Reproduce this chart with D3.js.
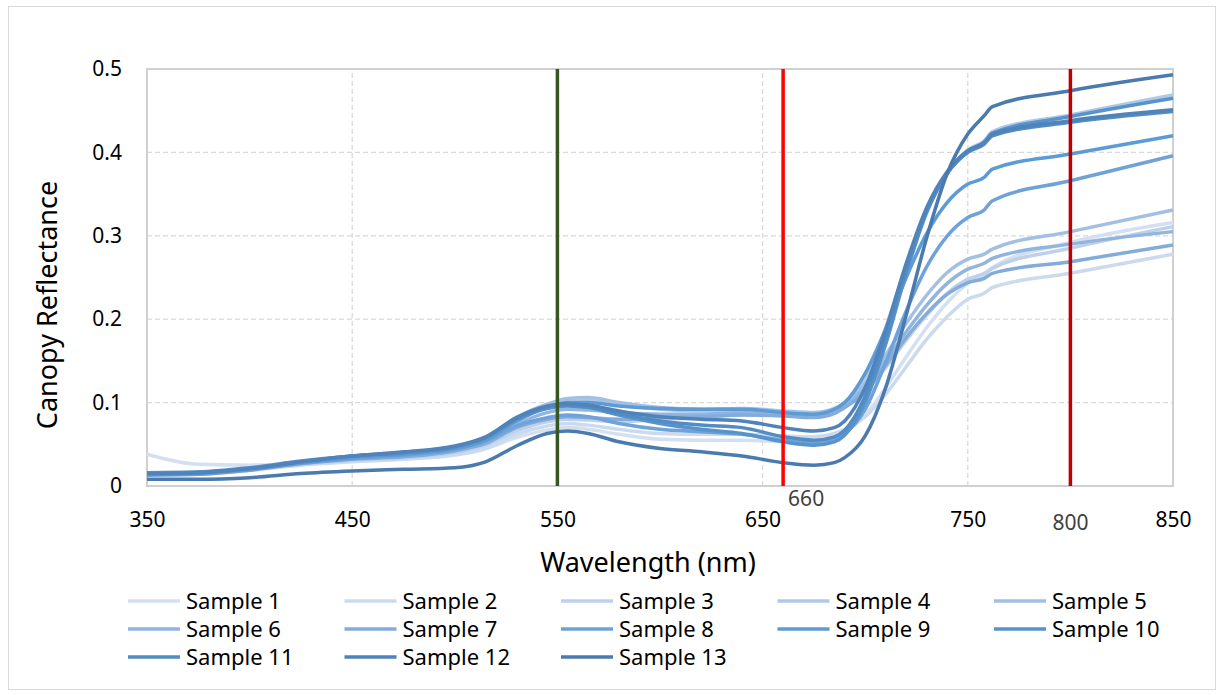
<!DOCTYPE html>
<html>
<head>
<meta charset="utf-8">
<script src="https://cdn.jsdelivr.net/npm/d3@7"></script>
<style>
  body { margin: 0; background: #fff; }
  text { font-family: "Noto Sans", "Open Sans", sans-serif; }
</style>
</head>
<body>
<div id="chart"></div>
<script>
var wavelengths = [350, 375, 400, 425, 450, 475, 500, 515, 530, 545, 555, 565, 580, 600, 620, 640, 660, 675, 685, 690, 700, 710, 720, 730, 740, 750, 758, 762, 800, 850];

var sample1  = [0.038,0.026,0.025,0.027,0.030,0.033,0.038,0.045,0.058,0.067,0.070,0.068,0.062,0.056,0.055,0.055,0.053,0.052,0.057,0.064,0.085,0.118,0.155,0.190,0.220,0.243,0.253,0.262,0.292,0.316];
var sample2  = [0.015,0.016,0.019,0.025,0.029,0.032,0.037,0.045,0.062,0.072,0.075,0.073,0.068,0.063,0.062,0.062,0.060,0.059,0.063,0.068,0.083,0.110,0.143,0.176,0.203,0.224,0.231,0.238,0.255,0.278];
var sample3  = [0.014,0.015,0.019,0.026,0.031,0.034,0.040,0.049,0.066,0.077,0.080,0.079,0.077,0.080,0.082,0.085,0.085,0.083,0.088,0.095,0.113,0.142,0.175,0.205,0.231,0.248,0.255,0.261,0.285,0.311];
var sample4  = [0.015,0.016,0.021,0.029,0.035,0.039,0.046,0.056,0.078,0.095,0.102,0.103,0.098,0.092,0.090,0.091,0.089,0.086,0.092,0.100,0.130,0.190,0.265,0.330,0.375,0.403,0.414,0.425,0.445,0.469];
var sample5  = [0.015,0.016,0.021,0.029,0.035,0.040,0.047,0.058,0.082,0.098,0.105,0.106,0.100,0.094,0.092,0.093,0.090,0.088,0.093,0.100,0.123,0.157,0.195,0.229,0.256,0.272,0.278,0.284,0.305,0.331];
var sample6  = [0.014,0.015,0.020,0.028,0.033,0.037,0.044,0.054,0.074,0.088,0.092,0.091,0.088,0.086,0.086,0.088,0.087,0.085,0.090,0.097,0.118,0.150,0.185,0.217,0.243,0.260,0.267,0.273,0.290,0.305];
var sample7  = [0.014,0.015,0.020,0.027,0.032,0.035,0.042,0.051,0.070,0.080,0.083,0.082,0.080,0.082,0.083,0.085,0.084,0.082,0.087,0.094,0.113,0.145,0.178,0.207,0.230,0.244,0.249,0.255,0.269,0.289];
var sample8  = [0.013,0.014,0.019,0.027,0.033,0.037,0.044,0.054,0.072,0.082,0.085,0.083,0.075,0.068,0.065,0.062,0.055,0.052,0.056,0.063,0.092,0.148,0.210,0.263,0.300,0.322,0.331,0.342,0.366,0.396];
var sample9  = [0.014,0.015,0.020,0.028,0.034,0.038,0.045,0.055,0.078,0.094,0.100,0.100,0.096,0.093,0.092,0.092,0.088,0.086,0.092,0.100,0.135,0.188,0.250,0.303,0.340,0.362,0.370,0.380,0.398,0.420];
var sample10 = [0.016,0.017,0.022,0.030,0.036,0.040,0.047,0.058,0.080,0.093,0.096,0.094,0.085,0.075,0.068,0.063,0.053,0.049,0.053,0.061,0.100,0.170,0.255,0.328,0.375,0.401,0.412,0.423,0.443,0.465];
var sample11 = [0.015,0.016,0.021,0.029,0.036,0.040,0.047,0.058,0.080,0.094,0.097,0.095,0.087,0.078,0.073,0.070,0.059,0.055,0.059,0.067,0.108,0.177,0.260,0.330,0.375,0.400,0.410,0.420,0.436,0.449];
var sample12 = [0.015,0.016,0.021,0.029,0.036,0.041,0.048,0.059,0.082,0.096,0.099,0.097,0.090,0.083,0.080,0.078,0.070,0.066,0.070,0.078,0.118,0.187,0.267,0.334,0.377,0.402,0.412,0.422,0.438,0.451];
var sample13 = [0.008,0.008,0.010,0.015,0.018,0.020,0.022,0.029,0.048,0.063,0.066,0.063,0.053,0.045,0.041,0.036,0.028,0.025,0.028,0.034,0.060,0.118,0.205,0.298,0.375,0.422,0.444,0.455,0.474,0.493];

var seriesNames = ["Sample 1","Sample 2","Sample 3","Sample 4","Sample 5","Sample 6","Sample 7",
                   "Sample 8","Sample 9","Sample 10","Sample 11","Sample 12","Sample 13"];
var seriesValues = [sample1, sample2, sample3, sample4, sample5, sample6, sample7,
                    sample8, sample9, sample10, sample11, sample12, sample13];
var seriesColors = ["#d4e0f1","#cbdaef","#bed1eb","#b1c9e7","#a3bfe3","#92b5df","#84acdb",
                    "#6fa2d8","#5d9bd5","#5793cc","#538bc3","#4f83b9","#4a7aae"];

var xTicks = [350, 450, 550, 650, 750, 850];
var yTicks = [0, 0.1, 0.2, 0.3, 0.4, 0.5];

// reference bands marked on the chart
var markers = [
  { nm: 550, color: "#375623" },
  { nm: 660, color: "#ff0000" },
  { nm: 800, color: "#c00000" }
];

var W = 1221, H = 695;
var margin = { left: 147, right: 48, top: 69, bottom: 209 };

var svg = d3.select("#chart").append("svg").attr("width", W).attr("height", H);

svg.append("rect")
  .attr("x", 8.5).attr("y", 6.5).attr("width", W - 14).attr("height", H - 12)
  .attr("fill", "#fff").attr("stroke", "#d9d9d9").attr("stroke-width", 1);

var x = d3.scaleLinear().domain([350, 850]).range([margin.left, W - margin.right]);
var y = d3.scaleLinear().domain([0, 0.5]).range([H - margin.bottom, margin.top]);

// gridlines
svg.append("g").selectAll("line").data(yTicks.slice(1, -1)).enter().append("line")
  .attr("x1", x(350)).attr("x2", x(850))
  .attr("y1", function(d) { return y(d); }).attr("y2", function(d) { return y(d); })
  .attr("stroke", "#d9d9d9").attr("stroke-width", 1.3).attr("stroke-dasharray", "5,3");
svg.append("g").selectAll("line").data(xTicks.slice(1, -1)).enter().append("line")
  .attr("y1", y(0)).attr("y2", y(0.5))
  .attr("x1", function(d) { return x(d); }).attr("x2", function(d) { return x(d); })
  .attr("stroke", "#d9d9d9").attr("stroke-width", 1.3).attr("stroke-dasharray", "5,3");

// plot area border
svg.append("rect")
  .attr("x", x(350)).attr("y", y(0.5)).attr("width", x(850) - x(350)).attr("height", y(0) - y(0.5))
  .attr("fill", "none").attr("stroke", "#d0d0d0").attr("stroke-width", 2);

// axes
var xAxis = svg.append("g").attr("transform", "translate(0," + y(0) + ")")
  .call(d3.axisBottom(x).tickValues(xTicks).tickSize(0).tickPadding(26));
var yAxis = svg.append("g").attr("transform", "translate(" + x(350) + ",0)")
  .call(d3.axisLeft(y).tickValues(yTicks).tickSize(0).tickPadding(25)
    .tickFormat(function(d) { return d === 0 ? "0" : d3.format(".1f")(d); }));
xAxis.select(".domain").remove();
yAxis.select(".domain").remove();
svg.selectAll(".tick text").attr("font-size", 21).attr("fill", "#000")
  .attr("font-family", "'Noto Sans', sans-serif");

// spectra
var line = d3.line()
  .x(function(d, i) { return x(wavelengths[i]); })
  .y(function(d) { return y(d); })
  .curve(d3.curveMonotoneX);

svg.append("g").selectAll("path").data(seriesValues).enter().append("path")
  .attr("d", line)
  .attr("fill", "none")
  .attr("stroke", function(d, i) { return seriesColors[i]; })
  .attr("stroke-width", 3.5)
  .attr("stroke-linejoin", "round");

// marker lines
svg.append("g").selectAll("line").data(markers).enter().append("line")
  .attr("x1", function(d) { return x(d.nm); }).attr("x2", function(d) { return x(d.nm); })
  .attr("y1", y(0.5)).attr("y2", y(0))
  .attr("stroke", function(d) { return d.color; }).attr("stroke-width", 3.5);

svg.append("text").attr("x", x(660) + 5).attr("y", y(0) + 20)
  .attr("font-size", 21).attr("fill", "#404040").text("660");
svg.append("text").attr("x", x(800)).attr("y", y(0) + 44).attr("text-anchor", "middle")
  .attr("font-size", 21).attr("fill", "#404040").text("800");

// axis titles
svg.append("text").attr("x", 648).attr("y", 572).attr("text-anchor", "middle")
  .attr("font-size", 27).attr("fill", "#000").text("Wavelength (nm)");
svg.append("text").attr("transform", "translate(57,305) rotate(-90)")
  .attr("text-anchor", "middle").attr("font-size", 27).attr("fill", "#000").text("Canopy Reflectance");

// legend
var legend = svg.append("g").selectAll("g").data(seriesNames).enter().append("g")
  .attr("transform", function(d, i) {
    return "translate(" + (128 + (i % 5) * 216.5) + "," + (601 + Math.floor(i / 5) * 28) + ")";
  });
legend.append("line").attr("x1", 0).attr("x2", 52).attr("y1", 0).attr("y2", 0)
  .attr("stroke", function(d, i) { return seriesColors[i]; }).attr("stroke-width", 3.5);
legend.append("text").attr("x", 58).attr("y", 8).attr("font-size", 22).attr("fill", "#000")
  .text(function(d) { return d; });
</script>
</body>
</html>
